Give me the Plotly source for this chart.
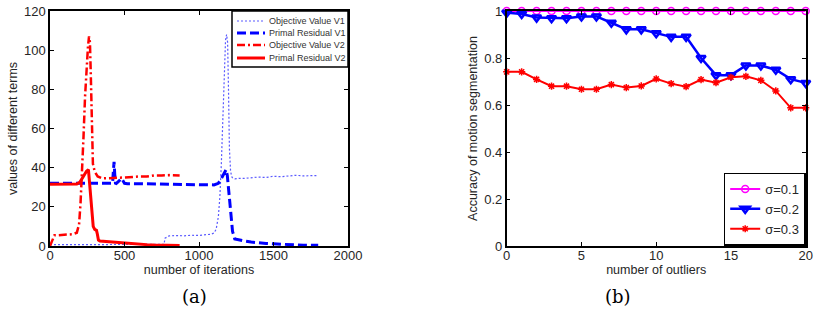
import plotly.graph_objects as go
from plotly.subplots import make_subplots

# ---------------- Panel (a) data ----------------
obj1_x = [0, 100, 200, 300, 400, 500, 600, 700, 765, 772, 800, 850, 900, 950, 1000, 1050, 1080, 1100, 1115,
          1130, 1140, 1150, 1160, 1170, 1178, 1185, 1192, 1198, 1204, 1212, 1222, 1240, 1270, 1300, 1350,
          1400, 1450, 1500, 1550, 1600, 1650, 1700, 1750, 1800]
obj1_y = [0.7, 0.7, 0.7, 0.7, 0.7, 0.7, 0.7, 0.7, 0.8, 4.0, 5.2, 5.3, 5.2, 5.5, 5.4, 5.8, 6.0, 6.6, 8.5,
          15, 25, 42, 65, 88, 105, 108, 104, 80, 50, 38, 35, 34.3, 34.6, 34.5, 35.0,
          35.2, 35.0, 35.6, 35.4, 35.9, 36.1, 35.8, 36.0, 36.0]

res1_x = [0, 100, 200, 300, 400, 420, 425, 430, 435, 440, 460, 480, 500, 520, 600, 700, 800, 900, 1000,
          1100, 1130, 1150, 1170, 1182, 1190, 1197, 1205, 1215, 1225, 1240, 1270, 1300, 1350, 1400, 1450,
          1500, 1550, 1600, 1700, 1800]
res1_y = [32, 32, 32, 32, 32, 32, 38, 43, 36, 31.6, 33, 34.5, 32, 31.8, 31.8, 31.6, 31.4, 31.4, 31.3,
          31.2, 32, 34.5, 37, 39, 36, 30, 22, 12.5, 7.5, 3.6, 3.0, 2.6, 2.0, 1.5, 1.3,
          1.1, 0.9, 0.6, 0.4, 0.4]

obj2_x = [0, 10, 20, 30, 50, 100, 150, 180, 195, 205, 215, 225, 235, 245, 255, 262, 268, 273, 280, 288,
          300, 320, 350, 400, 450, 500, 550, 600, 650, 700, 750, 800, 870]
obj2_y = [0, 2, 4.5, 5.5, 5.5, 5.8, 6.0, 6.8, 11, 22, 36, 56, 76, 91, 102, 107, 104, 90, 60, 42,
          38, 35.5, 34.5, 34.5, 34.8, 35.0, 35.3, 35.5, 35.5, 36.0, 36.0, 36.2, 36.0]

res2_x = [0, 50, 100, 150, 180, 200, 215, 230, 245, 258, 265, 272, 280, 290, 300, 312, 318, 325, 335,
          350, 400, 450, 500, 550, 600, 650, 700, 750, 800, 870]
res2_y = [31.5, 31.5, 31.5, 31.5, 31.7, 32.5, 34.5, 36.5, 38.2, 39, 33, 24, 16, 10, 8.5, 8, 6, 3, 2.5,
          2.4, 2.2, 1.8, 1.4, 1.1, 0.9, 0.7, 0.5, 0.4, 0.35, 0.3]

series_a_names = ["Objective Value V1", "Primal Residual V1", "Objective Value V2", "Primal Residual V2"]

# ---------------- Panel (b) data ----------------
outliers = list(range(21))
acc_s01 = [1.0] * 21
acc_s02 = [0.993, 0.987, 0.972, 0.969, 0.969, 0.977, 0.977, 0.950, 0.922, 0.922, 0.905,
           0.890, 0.890, 0.800, 0.727, 0.727, 0.768, 0.768, 0.750, 0.710, 0.694]
acc_s03 = [0.741, 0.741, 0.709, 0.680, 0.680, 0.667, 0.667, 0.687, 0.674, 0.681, 0.711,
           0.691, 0.678, 0.708, 0.695, 0.718, 0.722, 0.705, 0.660, 0.588, 0.588]

FONT = "Liberation Sans, Arial, sans-serif"
TXT = "#262626"
W, H = 814, 326

styles_a = [
    dict(color="rgb(90,90,255)", width=1.2, dash="2px,2px"),
    dict(color="#0000ff", width=3, dash="9px,4px"),
    dict(color="#ff0000", width=2.5, dash="8px,3px,2px,3px"),
    dict(color="#ff0000", width=3),
]

fig = make_subplots(rows=1, cols=2)

for (xs, ys), name, st in zip([(obj1_x, obj1_y), (res1_x, res1_y), (obj2_x, obj2_y), (res2_x, res2_y)],
                              series_a_names, styles_a):
    fig.add_trace(go.Scatter(x=xs, y=ys, mode="lines", name=name, line=st, showlegend=False), 1, 1)

fig.add_trace(go.Scatter(x=outliers, y=acc_s01, mode="lines+markers", name="σ=0.1",
                         line=dict(color="#ff00ff", width=2),
                         marker=dict(symbol="circle-open", size=7, color="#ff00ff", line=dict(width=1.5)),
                         cliponaxis=False), 1, 2)
fig.add_trace(go.Scatter(x=outliers, y=acc_s02, mode="lines+markers", name="σ=0.2",
                         line=dict(color="#0000ff", width=2.5),
                         marker=dict(symbol="triangle-down-open", size=8, color="#0000ff", line=dict(width=2.5)),
                         cliponaxis=False), 1, 2)
fig.add_trace(go.Scatter(x=outliers, y=acc_s03, mode="lines+markers", name="σ=0.3",
                         line=dict(color="#ff0000", width=2),
                         marker=dict(symbol="asterisk-open", size=6, color="#ff0000", line=dict(width=1.5)),
                         cliponaxis=False), 1, 2)

ax_common = dict(showline=True, linecolor="black", linewidth=1.5, mirror="ticks", ticks="inside",
                 ticklen=4, tickcolor="black", showgrid=False, zeroline=False, automargin=False,
                 tickfont=dict(family=FONT, size=13, color=TXT))

yb, yt = (H - 246) / H, (H - 11) / H
fig.update_xaxes(ax_common)
fig.update_yaxes(ax_common)
fig.update_xaxes(ticklabelstandoff=-3)
fig.update_xaxes(domain=[50 / W, 348 / W], range=[0, 2000], tickvals=[0, 500, 1000, 1500, 2000],
                 title=dict(text="number of iterations", font=dict(family=FONT, size=12.5, color=TXT), standoff=0),
                 row=1, col=1)
fig.update_yaxes(domain=[yb, yt], range=[0, 120], tickvals=[0, 20, 40, 60, 80, 100, 120],
                 title=dict(text="values of different terms", font=dict(family=FONT, size=12.5, color=TXT), standoff=4),
                 row=1, col=1)
fig.update_xaxes(domain=[506.7 / W, 805.7 / W], range=[0, 20], tickvals=[0, 5, 10, 15, 20],
                 title=dict(text="number of outliers", font=dict(family=FONT, size=12.5, color=TXT), standoff=0),
                 row=1, col=2)
fig.update_yaxes(domain=[yb, yt], range=[0, 1], tickvals=[0, 0.2, 0.4, 0.6, 0.8, 1],
                 title=dict(text="Accuracy of motion segmentation", font=dict(family=FONT, size=12.5, color=TXT), standoff=4),
                 row=1, col=2)

# Manual legend for panel (a) (compact, like the original)
px = lambda v: v / W
py = lambda v: 1 - v / H
shapes = [dict(type="rect", xref="paper", yref="paper", x0=px(232), x1=px(348), y0=py(67), y1=py(11),
               line=dict(color="black", width=1.5), fillcolor="white", layer="above")]
annotations = []
rows_y = [21, 33, 45, 58]
for name, st, ry in zip(series_a_names, styles_a, rows_y):
    shapes.append(dict(type="line", xref="paper", yref="paper", x0=px(237), x1=px(265), y0=py(ry), y1=py(ry),
                       line=dict(color=st["color"], width=st["width"], dash=st.get("dash", "solid")),
                       layer="above"))
    annotations.append(dict(text=name, x=px(267), y=py(ry), xref="paper", yref="paper", xanchor="left",
                            yanchor="middle", showarrow=False,
                            font=dict(family=FONT, size=9, color="#333333")))

annotations += [
    dict(text="(a)", x=180 / W, y=(H - 309) / H, xref="paper", yref="paper", showarrow=False,
         font=dict(family="DejaVu Serif, serif", size=18, color="black")),
    dict(text="(b)", x=633 / W, y=(H - 309) / H, xref="paper", yref="paper", showarrow=False,
         font=dict(family="DejaVu Serif, serif", size=18, color="black")),
]

fig.update_layout(
    width=W, height=H, margin=dict(l=0, r=0, t=0, b=0),
    paper_bgcolor="white", plot_bgcolor="white",
    showlegend=True,
    legend=dict(x=805.7 / W, y=(H - 245.5) / H, xanchor="right", yanchor="bottom", bgcolor="white",
                bordercolor="black", borderwidth=1.5, font=dict(family=FONT, size=13, color=TXT),
                tracegroupgap=0, itemwidth=30),
    shapes=shapes,
    annotations=annotations,
)

fig.write_html("out.html", config={"displayModeBar": False},
               post_script="document.body.style.margin='0';document.body.style.padding='0';")
